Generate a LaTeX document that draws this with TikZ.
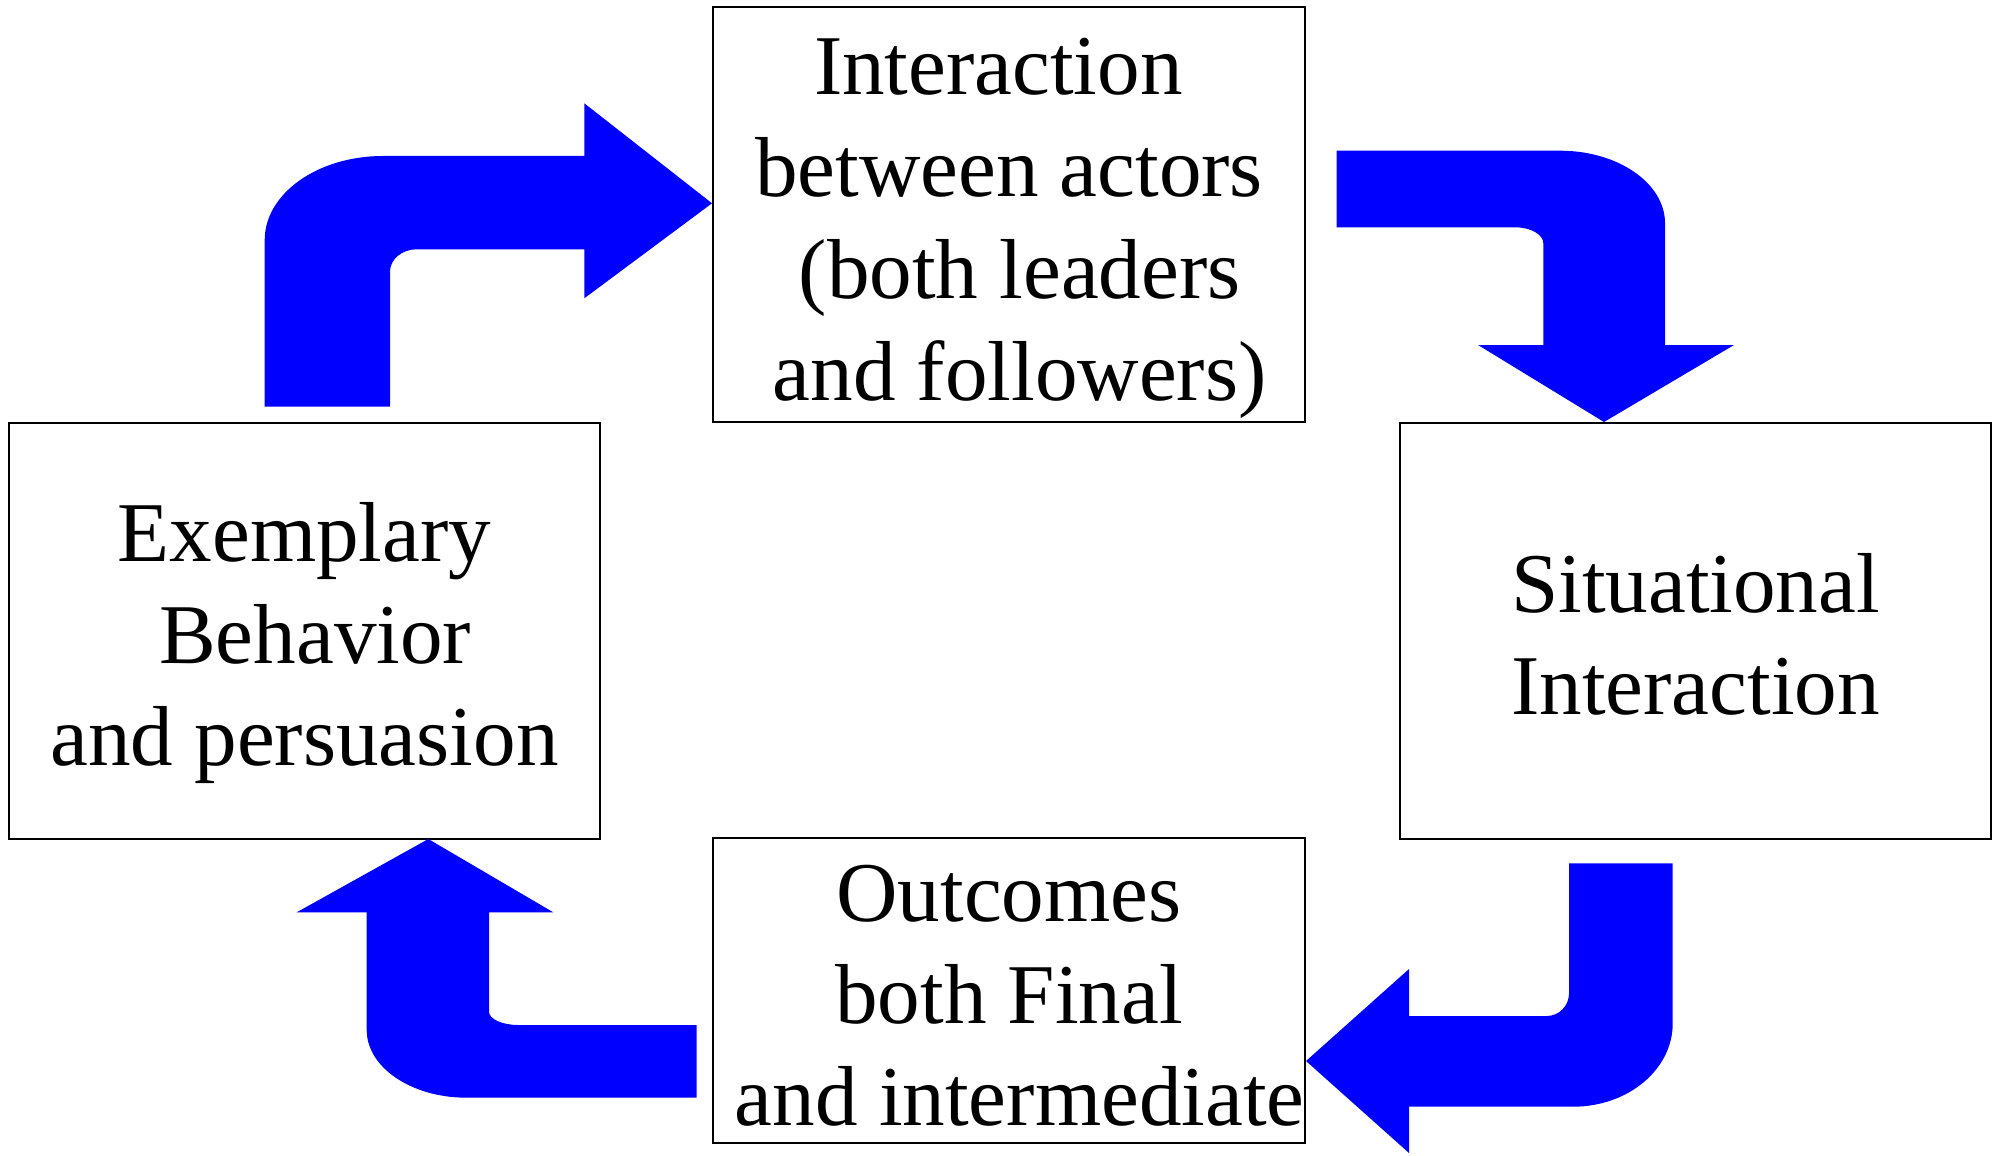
\documentclass[tikz,border=0pt]{standalone}
\usepackage{fontspec}
\setmainfont{Liberation Serif}
\definecolor{arrowblue}{RGB}{0,0,255}
\begin{document}
\begin{tikzpicture}[x=0.01cm,y=-0.01cm,
  box/.style={draw=black, line width=0.55pt, inner sep=0pt, outer sep=0pt},
  txt/.style={align=center, inner sep=0pt, anchor=north, font=\fontsize{24.2pt}{29pt}\selectfont},
  blockarrow/.style={fill=arrowblue, draw=none}]
\useasboundingbox (0,0) rectangle (1992,1155);
% boxes
\node[box, minimum width=5.92cm, minimum height=4.145cm] (top) at (1009,214.75) {};
\node[box, minimum width=5.91cm, minimum height=4.155cm] (left) at (304.5,630.75) {};
\node[box, minimum width=5.905cm, minimum height=4.155cm] (right) at (1695.25,630.75) {};
\node[box, minimum width=5.92cm, minimum height=3.04cm] (bottom) at (1009,990.5) {};
% texts
\node[txt] (ttop) at (1009,22.4) {\strut Interaction\hspace*{.25em}\\ \strut between actors\\ \strut\hspace*{.25em}(both leaders\\ \strut\hspace*{.25em}and followers)};
\node[txt] (tleft) at (304.5,489.4) {\strut Exemplary\\ \strut\hspace*{.25em}Behavior\\ \strut and persuasion};
\node[txt] (tright) at (1695.5,540.4) {\strut Situational\\ \strut Interaction};
\node[txt] (tbottom) at (1009,849.4) {\strut Outcomes\\ \strut both Final\\ \strut\hspace*{.25em}and intermediate};
% arrow left -> top
\fill[blockarrow] (264.7,406.7) -- (264.7,240)
  .. controls (264.7,193.6) and (317.7,156) .. (383,156)
  -- (584.3,156) -- (584.3,103.3) -- (712,203.3) -- (584.3,298.3) -- (584.3,249.3)
  -- (416.7,249.3) .. controls (402,249.3) and (390,259.3) .. (390,271.7)
  -- (390,406.7) -- cycle;
% arrow top -> right
\fill[blockarrow] (1336.7,150.7) -- (1560,150.7)
  .. controls (1618,150.7) and (1665,183.2) .. (1665,223.3)
  -- (1665,345) -- (1734,345) -- (1604,422) -- (1478,345) -- (1543.3,345)
  -- (1543.3,243.3) .. controls (1543.3,234.5) and (1530.6,227.3) .. (1515,227.3)
  -- (1336.7,227.3) -- cycle;
% arrow right -> bottom
\fill[blockarrow] (1569,863.3) -- (1672.7,863.3) -- (1672.7,1023.4)
  .. controls (1672.7,1069.4) and (1628.1,1106.7) .. (1573,1106.7)
  -- (1409,1106.7) -- (1409,1153) -- (1306,1061) -- (1409,969) -- (1409,1016)
  -- (1546.7,1016) .. controls (1559,1016) and (1569,1005.8) .. (1569,993.3)
  -- cycle;
% arrow bottom -> left
\fill[blockarrow] (696.7,1025) -- (696.7,1097.7) -- (466.7,1097.7)
  .. controls (411.5,1097.7) and (366.7,1067.4) .. (366.7,1030)
  -- (366.7,912.3) -- (296.7,912.3) -- (428.3,839) -- (553.3,912.3) -- (489,912.3)
  -- (489,1011.7) .. controls (489,1019) and (502.1,1025) .. (518.3,1025)
  -- cycle;
\end{tikzpicture}
\end{document}
